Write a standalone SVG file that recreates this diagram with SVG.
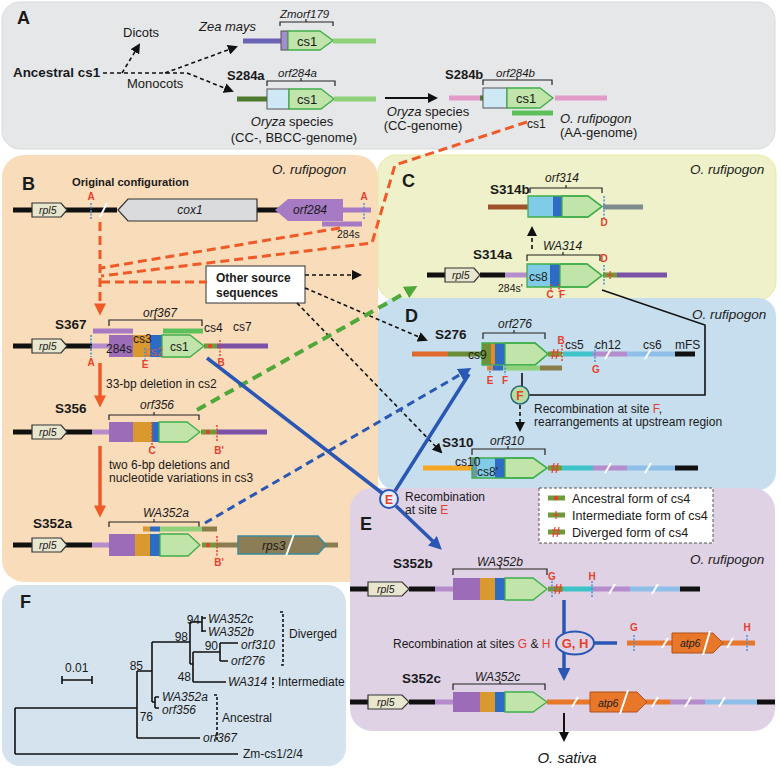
<svg xmlns="http://www.w3.org/2000/svg" width="781" height="769" viewBox="0 0 781 769">
<defs>
<style>
text{font-family:"Liberation Sans",Arial,sans-serif;fill:#1a1a1a;font-size:12px}
.i{font-style:italic}
.b{font-weight:bold}
.r{fill:#e5412d}
.lab{font-size:18px;font-weight:bold}
.sm{font-size:10.5px}
.pa{font-size:13px}
.nm{font-size:13.5px;font-weight:bold}
.ru{font-size:13.5px;font-style:italic}
.site{font-size:10px;font-weight:bold;fill:#e5412d;text-anchor:middle}
.brk{fill:none;stroke:#222;stroke-width:1.2}
.rpl{fill:#e9e6cf;stroke:#333;stroke-width:1.2}
.gr{fill:#c0e4a9;stroke:#3fae49;stroke-width:1.3}
.ol{fill:none;stroke:#3fae49;stroke-width:1.3}
.ln{fill:none;stroke-width:5}
.blk{stroke:#111}
.lil{stroke:#b58ccc}
.dpu{stroke:#7b52a8}
.c4{stroke:#6f9a3a}
.teal{stroke:#3ec3c9}
.lb{stroke:#8dbfe8}
.or{stroke:#e8772a}
.sl{stroke:#fff;stroke-width:2;fill:none}
.dotb{stroke:#4a90d9;stroke-width:1.5;stroke-dasharray:2 1.5;fill:none}
.dotr{stroke:#e5412d;stroke-width:1.5;stroke-dasharray:2 1.5;fill:none}
.rmk{fill:#e5412d}
.dv{fill:none;stroke:#e5412d;stroke-width:1.2}
.dk{fill:none;stroke:#111;stroke-width:1.6;stroke-dasharray:4 3}
.rd{fill:none;stroke:#f05a28;stroke-width:3;stroke-dasharray:9 5}
.tr{fill:none;stroke:#111;stroke-width:1.6}
.pu{fill:#9d6cb8}
.og{fill:#d9992e}
.bl{fill:#2d6bc4}
.lbf{fill:#80cce8}
</style>
<marker id="mk" viewBox="0 0 10 10" refX="8" refY="5" markerWidth="10" markerHeight="10" markerUnits="userSpaceOnUse" orient="auto"><path d="M0,0 L10,5 L0,10z" fill="#111"/></marker>
<marker id="mr" viewBox="0 0 10 10" refX="7" refY="5" markerWidth="13" markerHeight="12" markerUnits="userSpaceOnUse" orient="auto"><path d="M0,0 L10,5 L0,10z" fill="#f05a28"/></marker>
<marker id="mg" viewBox="0 0 10 10" refX="7" refY="5" markerWidth="13" markerHeight="13" markerUnits="userSpaceOnUse" orient="auto"><path d="M0,0 L10,5 L0,10z" fill="#4fa83a"/></marker>
<marker id="mb" viewBox="0 0 10 10" refX="7" refY="5" markerWidth="13" markerHeight="13" markerUnits="userSpaceOnUse" orient="auto"><path d="M0,0 L10,5 L0,10z" fill="#2a57b3"/></marker>
</defs>

<!-- panels -->
<g id="panels">
<rect x="2" y="2" width="773" height="147" rx="18" fill="#e6e7e8" stroke="#d9dadb"/>
<rect x="2" y="155" width="376" height="427" rx="22" fill="#f9dcba"/>
<rect x="378" y="155" width="398" height="145" rx="18" fill="#eef1c9" stroke="#e9ea9e"/>
<rect x="378" y="298" width="398" height="192" rx="18" fill="#c7deef"/>
<rect x="350" y="488" width="425" height="243" rx="22" fill="#dfd2e5"/>
<rect x="2" y="585" width="344" height="181" rx="18" fill="#d5e3ee"/>
</g>

<!-- Panel A -->
<g id="panelA">
<text x="17" y="24" class="lab">A</text>
<text x="13" y="77" class="b" style="font-size:13.4px">Ancestral cs1</text>
<text x="123" y="37" class="pa">Dicots</text>
<text x="127" y="88" class="pa">Monocots</text>
<text x="199" y="31" class="i pa">Zea mays</text>
</g>
<g id="zea">
<text x="280" y="18" class="i" style="font-size:11.5px">Zmorf179</text>
<path class="brk" d="M280,26 V22 H333 V26 M306,22 V19"/>
<path class="ln" stroke="#6b63b5" stroke-width="4" d="M243,41 H281"/>
<rect x="281" y="31" width="7" height="19" fill="#a58cd0" stroke="#555"/>
<polygon class="gr" points="288,31 320,31 333,40.5 320,50 288,50"/>
<text x="297" y="45.5" class="pa">cs1</text>
<path class="ln" stroke="#8fd07a" stroke-width="4" d="M333,41 H376"/>
</g>
<g id="S284a">
<text x="227" y="80" class="b pa">S284a</text>
<text x="278" y="77" class="i" style="font-size:11.5px">orf284a</text>
<path class="brk" d="M267,86 V81 H335 V86 M301,81 V78"/>
<path class="ln" stroke="#4e7a2e" stroke-width="4" d="M237,99 H267"/>
<rect x="267" y="89" width="22" height="20" fill="#cfe8f5" stroke="#555"/>
<polygon class="gr" points="289,89 321,89 334,99 321,109 289,109"/>
<text x="297" y="103.5" class="pa">cs1</text>
<path class="ln" stroke="#8fd07a" stroke-width="4" d="M334,99 H376"/>
<text x="292" y="126" text-anchor="middle" class="pa"><tspan class="i">Oryza</tspan> species</text>
<text x="294" y="142" text-anchor="middle" class="pa">(CC-, BBCC-genome)</text>
</g>
<g id="S284b">
<text x="445" y="79" class="b pa">S284b</text>
<text x="496" y="77" class="i" style="font-size:11.5px">orf284b</text>
<path class="brk" d="M483,85 V80 H552 V85 M517,80 V77"/>
<path class="ln" stroke="#e29bc8" stroke-width="4" d="M449,98 H483 M555,98 H607"/>
<path class="ln" stroke="#4e7a2e" stroke-width="4" d="M480,98 H484"/>
<rect x="483" y="88" width="24" height="20" fill="#cfe8f5" stroke="#555"/>
<polygon class="gr" points="507,88 540,88 553,98 540,108 507,108"/>
<text x="516" y="102.5" class="pa">cs1</text>
<path class="ln" stroke="#5cc15a" stroke-width="2.5" d="M512,113 H553"/>
<text x="527" y="128">cs1</text>
<text x="560" y="123" class="i pa">O. rufipogon</text>
<text x="560" y="137" class="pa">(AA-genome)</text>
<text x="428" y="116" text-anchor="middle" class="pa"><tspan class="i">Oryza</tspan> species</text>
<text x="423" y="130" text-anchor="middle" class="pa">(CC-genome)</text>
</g>

<!-- Panel B -->
<g id="panelB">
<text x="22" y="190" class="lab">B</text>
<text x="72" y="186" class="b" style="font-size:11.2px">Original configuration</text>
<text x="272" y="174" class="ru">O. rufipogon</text>
</g>
<g id="orig">
<path class="ln blk" d="M13,210 H117 M257,210 H280"/>
<path class="sl" d="M100,217 L107,203"/>
<polygon class="rpl" points="32,203 61,203 67,210 61,217 32,217"/>
<text x="39" y="214" class="i sm">rpl5</text>
<polygon points="118,210 128,199 257,199 257,221 128,221" fill="#d9dbdd" stroke="#333" stroke-width="1.2"/>
<text x="190" y="214" class="i" text-anchor="middle">cox1</text>
<polygon points="275,210 288,199 343,199 343,221 288,221" fill="#a77bc4"/>
<path class="ln" stroke="#a77bc4" d="M343,210 H371"/>
<text x="293" y="214" class="i">orf284</text>
<path class="dotb" d="M91,203 V219 M364,203 V219"/>
<text x="91" y="200" class="site">A</text>
<text x="364" y="200" class="site">A</text>
<path class="ln" stroke="#a77bc4" stroke-width="3" d="M322,224 H362"/>
<text x="337" y="238" class="sm">284s</text>
</g>
<g id="other">
<rect x="206" y="266" width="99" height="37" fill="#fff" stroke="#333"/>
<text x="216" y="282" class="b">Other source</text>
<text x="216" y="297" class="b">sequences</text>
</g>
<g id="S367">
<text x="55" y="329" class="nm">S367</text>
<text x="143" y="317" class="i">orf367</text>
<path class="brk" d="M109,326 V320 H202 V326 M155,320 V317"/>
<path class="ln" stroke="#a77bc4" stroke-width="3" d="M93,331 H133"/>
<path class="ln" stroke="#5cc15a" stroke-width="3" d="M163,331 H203"/>
<path class="ln blk" d="M13,346 H92"/>
<polygon class="rpl" points="32,339 61,339 67,346 61,353 32,353"/>
<text x="39" y="350" class="i sm">rpl5</text>
<path class="ln lil" d="M92,346 H109"/>
<rect x="109" y="335" width="24" height="22" class="pu"/>
<rect x="133" y="335" width="17" height="22" class="og"/>
<rect x="150" y="335" width="12" height="22" class="bl"/>
<polygon class="gr" points="162,335 190,335 204,346 190,357 162,357"/>
<path class="ln c4" d="M204,346 H217"/>
<circle cx="210" cy="346" r="2.2" class="rmk"/>
<path class="ln dpu" d="M217,346 H268"/>
<text x="106" y="353">284s</text>
<text x="133" y="343">cs3</text>
<text x="145" y="356" opacity="0.75" style="fill:#e8603c">cs2</text>
<text x="170" y="351">cs1</text>
<text x="204" y="332">cs4</text>
<text x="233" y="331">cs7</text>
<path class="dotb" d="M91,335 V357 M145,348 V360"/>
<path class="dotr" d="M220,340 V357"/>
<text x="91" y="366" class="site">A</text>
<text x="145" y="368" class="site">E</text>
<text x="221" y="366" class="site">B</text>
</g>
<text x="106" y="388">33-bp deletion in cs2</text>
<g id="S356">
<text x="55" y="413" class="nm">S356</text>
<text x="140" y="409" class="i">orf356</text>
<path class="brk" d="M109,420 V415 H199 V420 M154,415 V412"/>
<path class="ln blk" d="M13,432 H92"/>
<polygon class="rpl" points="32,425 61,425 67,432 61,439 32,439"/>
<text x="39" y="436" class="i sm">rpl5</text>
<path class="ln lil" d="M92,432 H109"/>
<rect x="109" y="422" width="24" height="20" class="pu"/>
<rect x="133" y="422" width="19" height="20" class="og"/>
<rect x="152" y="422" width="7" height="20" class="bl"/>
<polygon class="gr" points="159,422 187,422 200,432 187,442 159,442"/>
<path class="ln c4" d="M201,432 H217"/>
<circle cx="208" cy="432" r="2.2" class="rmk"/>
<path class="ln dpu" d="M217,432 H267"/>
<path class="dotr" d="M152,422 V445 M217,425 V442"/>
<text x="152" y="454" class="site">C</text>
<text x="219" y="454" class="site">B'</text>
</g>
<text x="109" y="469">two 6-bp deletions and</text>
<text x="109" y="482">nucleotide variations in cs3</text>
<g id="S352a">
<text x="33" y="528" class="nm">S352a</text>
<text x="143" y="517" class="i">WA352a</text>
<path class="brk" d="M109,527 V522 H199 V527 M154,522 V519"/>
<path class="ln" stroke-width="3" stroke="#d9992e" d="M143,529 H150"/>
<path class="ln" stroke-width="3" stroke="#2d6bc4" d="M150,529 H160"/>
<path class="ln" stroke-width="3" stroke="#8fd07a" d="M160,529 H202"/>
<path class="ln" stroke-width="3" stroke="#8a7d4a" d="M202,529 H217"/>
<path class="ln blk" d="M13,545 H92"/>
<polygon class="rpl" points="32,538 61,538 67,545 61,552 32,552"/>
<text x="39" y="549" class="i sm">rpl5</text>
<path class="ln lil" d="M92,545 H109"/>
<rect x="109" y="534" width="26" height="22" class="pu"/>
<rect x="135" y="534" width="15" height="22" class="og"/>
<rect x="150" y="534" width="10" height="22" class="bl"/>
<polygon class="gr" points="160,534 188,534 200,545 188,556 160,556"/>
<path class="ln c4" d="M202,545 H217"/>
<circle cx="208" cy="545" r="2.2" class="rmk"/>
<path class="ln" stroke="#8a7d52" d="M217,545 H338"/>
<polygon points="238,536 318,536 326,545 318,554 238,554" fill="#8b7d55" stroke="#3b8c9e" stroke-width="1.5"/>
<path class="sl" stroke-width="2.5" d="M286,556 L294,534"/>
<text x="262" y="550" class="i">rps3</text>
<path class="dotr" d="M217,536 V556"/>
<text x="219" y="566" class="site">B'</text>
</g>

<!-- Panel C -->
<g id="panelC">
<text x="402" y="187" class="lab">C</text>
<text x="690" y="174" class="ru">O. rufipogon</text>
</g>
<g id="S314b">
<text x="490" y="194" class="nm">S314b</text>
<text x="545" y="182" class="i">orf314</text>
<path class="brk" d="M530,193 V188 H602 V193 M566,188 V185"/>
<path class="ln" stroke="#a0522d" stroke-width="4" d="M488,207 H528"/>
<rect x="528" y="196" width="25" height="21" class="lbf"/>
<rect x="553" y="196" width="9" height="21" class="bl"/>
<polygon class="gr" points="562,196 588,196 602,206.5 588,217 562,217"/>
<polygon class="ol" points="528,196 588,196 602,206.5 588,217 528,217"/>
<path class="ln" stroke="#7f8c8d" stroke-width="4" d="M603,207 H643"/>
<path class="dotb" d="M604,196 V218"/>
<text x="604" y="226" class="site">D</text>
</g>
<g id="S314a">
<text x="473" y="259" class="nm">S314a</text>
<text x="543" y="250" class="i">WA314</text>
<path class="brk" d="M527,261 V255 H600 V261 M563,255 V252"/>
<text x="604" y="262" class="site">D</text>
<path class="ln blk" d="M427,275 H445 M480,275 H505"/>
<polygon class="rpl" points="445,268 474,268 480,275 474,282 445,282"/>
<text x="452" y="279" class="i sm">rpl5</text>
<path class="ln lil" d="M505,275 H527"/>
<rect x="527" y="264" width="23" height="23" class="lbf"/>
<rect x="550" y="264" width="10" height="23" class="bl"/>
<polygon class="gr" points="560,264 587,264 602,275.5 587,287 560,287"/>
<polygon class="ol" points="527,264 587,264 602,275.5 587,287 527,287"/>
<text x="529" y="281">cs8</text>
<path class="dotr" d="M551,284 V292 M559,284 V292"/>
<text x="550" y="298" class="site">C</text>
<text x="562" y="298" class="site">F</text>
<path class="dotb" d="M604,265 V286"/>
<path class="ln c4" d="M603,275 H617"/>
<path class="dv" stroke-width="1.5" d="M610,271 V279 M607,275 H613"/>
<path class="ln dpu" d="M617,275 H667"/>
<text x="498" y="292" class="sm">284s'</text>
</g>

<!-- Panel D -->
<g id="panelD">
<text x="405" y="322" class="lab">D</text>
<text x="692" y="319" class="ru">O. rufipogon</text>
</g>
<g id="S276">
<text x="435" y="339" class="nm">S276</text>
<text x="498" y="328" class="i">orf276</text>
<path class="brk" d="M483,339 V333 H545 V339 M514,333 V330"/>
<path class="ln" stroke="#e06a2c" d="M412,354 H448"/>
<path class="ln" stroke="#6b8c35" d="M448,354 H482"/>
<rect x="482" y="343" width="9" height="22" fill="#708f36"/>
<rect x="491" y="343" width="4" height="22" fill="#e8892c"/>
<rect x="495" y="343" width="10" height="22" class="bl"/>
<polygon class="gr" points="505,343 535,343 548,354 535,365 505,365"/>
<polygon class="ol" points="482,343 535,343 548,354 535,365 482,365"/>
<text x="468" y="359">cs9</text>
<path class="ln c4" d="M548,354 H562"/>
<path class="dv" d="M552,359 L554,349 M556,359 L558,349 M551,352 H559 M551,356 H559"/>
<path class="dotr" d="M562,345 V362"/>
<text x="561" y="344" class="site">B</text>
<path class="ln teal" stroke-width="6" d="M563,354 H593"/>
<path class="ln lil" stroke-width="6" d="M593,354 H627"/>
<path class="ln lb" stroke-width="6" d="M627,354 H675"/>
<path class="ln blk" stroke-width="6" d="M675,354 H695"/>
<path class="sl" d="M605,359 L611,349 M645,359 L651,349"/>
<path class="dotb" d="M595,346 V362"/>
<text x="596" y="373" class="site">G</text>
<text x="565" y="349">cs5</text>
<text x="595" y="349">ch12</text>
<text x="643" y="349">cs6</text>
<text x="675" y="349">mFS</text>
<path class="ln" stroke-width="3" stroke="#e8892c" d="M487,368 H493"/>
<path class="ln" stroke-width="3" stroke="#2d6bc4" d="M493,368 H503"/>
<path class="ln" stroke-width="3" stroke="#8fd07a" d="M503,368 H540"/>
<path class="ln" stroke-width="3" stroke="#8a7d4a" d="M540,368 H562"/>
<path class="dotb" d="M490,364 V375 M505,364 V375"/>
<text x="490" y="384" class="site">E</text>
<text x="505" y="384" class="site">F</text>
</g>
<g id="S310">
<text x="442" y="447" class="nm">S310</text>
<text x="490" y="445" class="i">orf310</text>
<path class="brk" d="M472,455 V449 H545 V455 M508,449 V446"/>
<path class="ln" stroke="#f5a623" d="M423,468 H472"/>
<rect x="472" y="458" width="5" height="20" fill="#6a9aaa"/>
<rect x="477" y="458" width="18" height="20" class="lbf"/>
<rect x="495" y="458" width="10" height="20" class="bl"/>
<polygon class="gr" points="505,458 533,458 547,468 533,478 505,478"/>
<polygon class="ol" points="472,458 533,458 547,468 533,478 472,478"/>
<text x="455" y="466">cs10</text>
<text x="477" y="476">cs8'</text>
<path class="ln c4" d="M548,468 H562"/>
<path class="dv" d="M552,473 L554,463 M556,473 L558,463 M551,466 H559 M551,470 H559"/>
<path class="ln teal" stroke-width="6" d="M562,468 H593"/>
<path class="ln lil" stroke-width="6" d="M593,468 H627"/>
<path class="ln lb" stroke-width="6" d="M627,468 H675"/>
<path class="ln blk" stroke-width="6" d="M675,468 H698"/>
<path class="sl" d="M605,473 L611,463 M645,473 L651,463"/>
</g>

<!-- Panel E -->
<g id="panelE">
<text x="360" y="530" class="lab">E</text>
<text x="690" y="564" class="ru">O. rufipogon</text>
</g>
<g id="legend">
<rect x="539" y="488" width="174" height="55" fill="#fff" stroke="#555" stroke-dasharray="3 2"/>
<path class="ln c4" d="M548,498 H565 M548,515 H565 M548,532 H565"/>
<circle cx="556" cy="498" r="2.2" class="rmk"/>
<path class="dv" stroke-width="1.5" d="M556,511 V519 M553,515 H559"/>
<path class="dv" d="M553,537 L555,527 M557,537 L559,527 M552,530 H560 M552,534 H560"/>
<text x="572" y="503" style="font-size:12.6px">Ancestral form of cs4</text>
<text x="572" y="520" style="font-size:12.6px">Intermediate form of cs4</text>
<text x="572" y="537" style="font-size:12.6px">Diverged form of cs4</text>
</g>
<g id="S352b">
<text x="393" y="568" class="nm">S352b</text>
<text x="477" y="566" class="i">WA352b</text>
<path class="brk" d="M453,575 V569 H547 V575 M500,569 V566"/>
<path class="ln blk" d="M350,589 H368 M409,589 H435"/>
<polygon class="rpl" points="368,582 402,582 409,589 402,596 368,596"/>
<text x="377" y="593" class="i sm">rpl5</text>
<path class="ln lil" d="M435,589 H453"/>
<rect x="453" y="578" width="27" height="22" class="pu"/>
<rect x="480" y="578" width="15" height="22" class="og"/>
<rect x="495" y="578" width="10" height="22" class="bl"/>
<polygon class="gr" points="505,578 533,578 547,589 533,600 505,600"/>
<path class="ln c4" d="M548,589 H563"/>
<path class="dv" d="M555,594 L557,584 M559,594 L561,584 M554,587 H562 M554,591 H562"/>
<path class="ln teal" stroke-width="6" d="M563,589 H593"/>
<path class="ln lil" stroke-width="6" d="M593,589 H630"/>
<path class="ln lb" stroke-width="6" d="M630,589 H680"/>
<path class="ln blk" stroke-width="6" d="M680,589 H700"/>
<path class="sl" d="M609,594 L615,584 M652,594 L658,584"/>
<path class="dotb" d="M552,581 V598 M592,581 V598"/>
<text x="552" y="580" class="site">G</text>
<text x="592" y="580" class="site">H</text>
</g>
<g id="atp6frag">
<path class="ln or" d="M627,643 H755"/>
<polygon points="672,633 713,633 723,643 713,653 672,653" fill="#e8772a" stroke="#b0501a"/>
<path class="sl" d="M662,648 L668,638 M703,655 L710,631 M727,648 L733,638"/>
<text x="680" y="647" class="i sm">atp6</text>
<path class="dotb" d="M634,635 V651 M747,635 V651"/>
<text x="634" y="631" class="site">G</text>
<text x="747" y="631" class="site">H</text>
</g>
<text x="393" y="648">Recombination at sites <tspan class="r">G</tspan> &amp; <tspan class="r">H</tspan></text>
<g id="S352c">
<text x="402" y="683" class="nm">S352c</text>
<text x="475" y="681" class="i">WA352c</text>
<path class="brk" d="M453,690 V684 H545 V690 M500,684 V681"/>
<path class="ln blk" d="M350,702 H368 M409,702 H435"/>
<polygon class="rpl" points="368,695 402,695 409,702 402,709 368,709"/>
<text x="377" y="706" class="i sm">rpl5</text>
<path class="ln lil" d="M435,702 H453"/>
<rect x="453" y="692" width="27" height="20" class="pu"/>
<rect x="480" y="692" width="15" height="20" class="og"/>
<rect x="495" y="692" width="10" height="20" class="bl"/>
<polygon class="gr" points="505,692 533,692 547,702 533,712 505,712"/>
<path class="ln or" d="M547,702 H670"/>
<polygon points="590,692 637,692 647,702 637,712 590,712" fill="#e8772a" stroke="#b0501a"/>
<text x="598" y="707" class="i sm">atp6</text>
<path class="ln lil" d="M670,702 H705"/>
<path class="ln lb" d="M705,702 H757"/>
<path class="ln blk" d="M757,702 H775"/>
<path class="sl" d="M572,707 L578,697 M620,714 L628,690 M652,707 L658,697 M685,707 L691,697 M719,707 L725,697"/>
</g>
<text x="567" y="763" class="i" style="font-size:15px" text-anchor="middle">O. sativa</text>

<!-- Panel F tree -->
<g id="panelF">
<text x="20" y="608" class="lab">F</text>
<text x="65" y="672">0.01</text>
<path class="tr" d="M62,680 H92 M62,676 V684 M92,676 V684"/>
<path class="tr" d="M15,708 V754 M15,708 H137 M15,754 H238 M137,671 V738 M137,738 H200 M137,671 H152 M152,642 V702 M152,702 H155 M155,697 V708 M155,697 H159 M155,708 H159 M152,642 H190 M190,622 V664 M190,622 H202 M202,616 V632 M202,618 H206 M202,631 H206 M190,664 H193 M193,652 V682 M193,652 H220 M220,643 V661 M220,643 H238 M220,661 H228 M193,682 H226"/>
<text x="203" y="742" class="i">orf367</text>
<text x="243" y="758">Zm-cs1/2/4</text>
<text x="143" y="670" text-anchor="end">85</text>
<text x="153" y="721" text-anchor="end">76</text>
<text x="162" y="701" class="i">WA352a</text>
<text x="162" y="714" class="i">orf356</text>
<text x="188" y="641" text-anchor="end">98</text>
<text x="200" y="624" text-anchor="end">94</text>
<text x="208" y="623" class="i">WA352c</text>
<text x="208" y="636" class="i">WA352b</text>
<text x="191" y="681" text-anchor="end">48</text>
<text x="218" y="650" text-anchor="end">90</text>
<text x="241" y="649" class="i">orf310</text>
<text x="231" y="665" class="i">orf276</text>
<text x="228" y="686" class="i">WA314</text>
<path class="tr" stroke-width="1" stroke-dasharray="3 2" d="M280,612 H283 V665 H280 M273,677 V688 M214,695 H217 V740 H214"/>
<text x="289" y="638">Diverged</text>
<text x="278" y="686">Intermediate</text>
<text x="222" y="722">Ancestral</text>
</g>

<!-- connectors -->
<g id="connectors">
<path class="dk" d="M103,73 H187"/>
<path class="dk" d="M122,73 L139,45" marker-end="url(#mk)"/>
<path class="dk" d="M165,73 L236,47" marker-end="url(#mk)"/>
<path class="dk" d="M187,73 L232,91" marker-end="url(#mk)"/>
<path fill="none" stroke="#111" stroke-width="2" d="M385,98 H436" marker-end="url(#mk)"/>
<path class="rd" d="M527,122 L395,165 L372,243 L101,276"/>
<path class="rd" d="M340,228 L101,268"/>
<path class="rd" d="M101,282 H207"/>
<path class="rd" d="M100,222 V312" marker-end="url(#mr)"/>
<path fill="none" stroke="#f05a28" stroke-width="3.5" d="M100,363 V404" marker-end="url(#mr)"/>
<path fill="none" stroke="#f05a28" stroke-width="3.5" d="M100,446 V514" marker-end="url(#mr)"/>
<path class="dk" d="M305,275 H360" marker-end="url(#mk)"/>
<path class="dk" d="M305,288 L426,340" marker-end="url(#mk)"/>
<path class="dk" d="M297,303 L441,452" marker-end="url(#mk)"/>
<path fill="none" stroke="#4fa83a" stroke-width="4" stroke-dasharray="10 6" d="M197,410 L414,288" marker-end="url(#mg)"/>
<path fill="none" stroke="#2a57b3" stroke-width="3" stroke-dasharray="8 5" d="M205,523 L468,370" marker-end="url(#mb)"/>
<path fill="none" stroke="#2a57b3" stroke-width="3.5" d="M207,358 L382,493 M395,491 L469,374"/>
<path fill="none" stroke="#2a57b3" stroke-width="3.5" d="M396,506 L439,547" marker-end="url(#mb)"/>
<circle cx="389" cy="499" r="9" fill="#e8eef8" stroke="#2a57b3" stroke-width="2"/>
<text x="389" y="503.5" class="b r" text-anchor="middle">E</text>
<text x="405" y="501">Recombination</text>
<text x="405" y="514">at site <tspan class="r">E</tspan></text>
<path class="dk" d="M532,249 V228" marker-end="url(#mk)"/>
<path fill="none" stroke="#111" stroke-width="1.6" d="M602,290 L705,325 V395 H529 M522,373 V386"/>
<circle cx="520" cy="395" r="9" fill="#b9dca0" stroke="#2e6b7a" stroke-width="1.5"/>
<text x="520" y="399.5" class="b r" text-anchor="middle">F</text>
<path class="dk" d="M520,405 V430" marker-end="url(#mk)"/>
<text x="534" y="413">Recombination at site <tspan class="r">F</tspan>,</text>
<text x="534" y="426">rearrangements at upstream region</text>
<path fill="none" stroke="#2a57b3" stroke-width="3.5" d="M564,600 V677" marker-end="url(#mb)"/>
<path fill="none" stroke="#2a57b3" stroke-width="3.5" d="M594,643 H617"/>
<ellipse cx="575" cy="643" rx="19" ry="11.5" fill="#dfd2e5" stroke="#2a57b3" stroke-width="2"/>
<text x="575" y="648" class="b r" text-anchor="middle" style="font-size:13px">G, H</text>
<path fill="none" stroke="#111" stroke-width="2" d="M564,713 V740" marker-end="url(#mk)"/>
</g>
</svg>
